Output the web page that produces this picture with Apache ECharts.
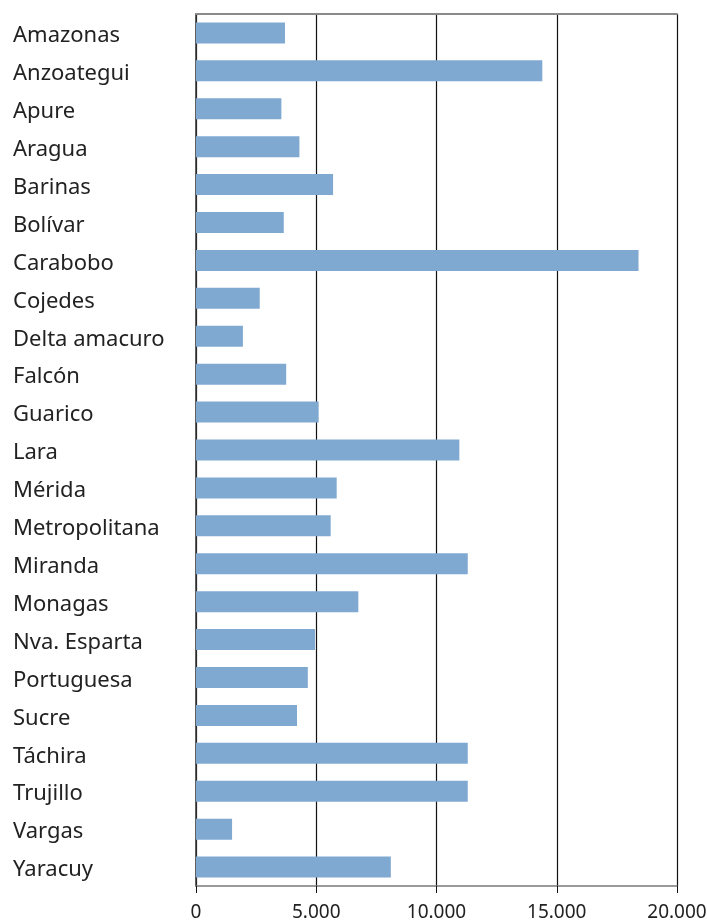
<!DOCTYPE html>
<html>
<head>
<meta charset="utf-8">
<script src="https://cdn.jsdelivr.net/npm/echarts@6/dist/echarts.min.js"></script>
<style>
  html, body { margin: 0; padding: 0; background: #fff; }
  #chart { width: 707px; height: 922px; }
</style>
</head>
<body>
<div id="chart"></div>
<script>
// states, top to bottom
const states = [
    'Amazonas', 'Anzoategui', 'Apure', 'Aragua', 'Barinas', 'Bolívar',
    'Carabobo', 'Cojedes', 'Delta amacuro', 'Falcón', 'Guarico', 'Lara',
    'Mérida', 'Metropolitana', 'Miranda', 'Monagas', 'Nva. Esparta',
    'Portuguesa', 'Sucre', 'Táchira', 'Trujillo', 'Vargas', 'Yaracuy'
];
const values = [
    3700, 14400, 3550, 4300, 5700, 3650,
    18400, 2650, 1950, 3750, 5100, 10950,
    5850, 5600, 11300, 6750, 4950,
    4650, 4200, 11300, 11300, 1500, 8100
];
const xTicks = [0, 5000, 10000, 15000, 20000];

const fmt = (v) => String(v).replace(/\B(?=(\d{3})+(?!\d))/g, '.');

const chart = echarts.init(document.getElementById('chart'));
const font = '"Noto Sans", sans-serif';

chart.setOption({
    animation: false,
    grid: {
        left: 196, right: 30, top: 14, bottom: 36,
        containLabel: false, outerBoundsMode: 'none'
    },
    xAxis: [{
        type: 'value',
        min: xTicks[0],
        max: xTicks[xTicks.length - 1],
        interval: 5000,
        axisLine: { show: true, lineStyle: { color: '#7a7a7a', width: 1.5 } },
        axisTick: { show: true, length: 7, lineStyle: { color: '#111' } },
        splitLine: { show: true, lineStyle: { color: '#111', width: 1.2 } },
        axisLabel: {
            formatter: fmt, color: '#222', fontSize: 19, fontFamily: font, margin: 17
        }
    }, {
        type: 'value',
        position: 'top',
        min: xTicks[0],
        max: xTicks[xTicks.length - 1],
        axisLine: { show: true, lineStyle: { color: '#8a8a8a', width: 2 } },
        axisTick: { show: false },
        axisLabel: { show: false },
        splitLine: { show: false }
    }],
    yAxis: {
        type: 'category',
        data: states,
        inverse: true,
        axisLine: { show: true, lineStyle: { color: '#333', width: 1.5 } },
        axisTick: { show: false },
        axisLabel: {
            align: 'left', margin: 183,
            formatter: (v) => '{s|' + v + '}',
            rich: {
                s: { color: '#222', fontSize: 22, fontFamily: font, padding: [6, 0, 0, 0] }
            }
        }
    },
    series: [{
        type: 'bar',
        data: values,
        barWidth: 21,
        itemStyle: { color: '#80a9d2' }
    }]
});
</script>
</body>
</html>
